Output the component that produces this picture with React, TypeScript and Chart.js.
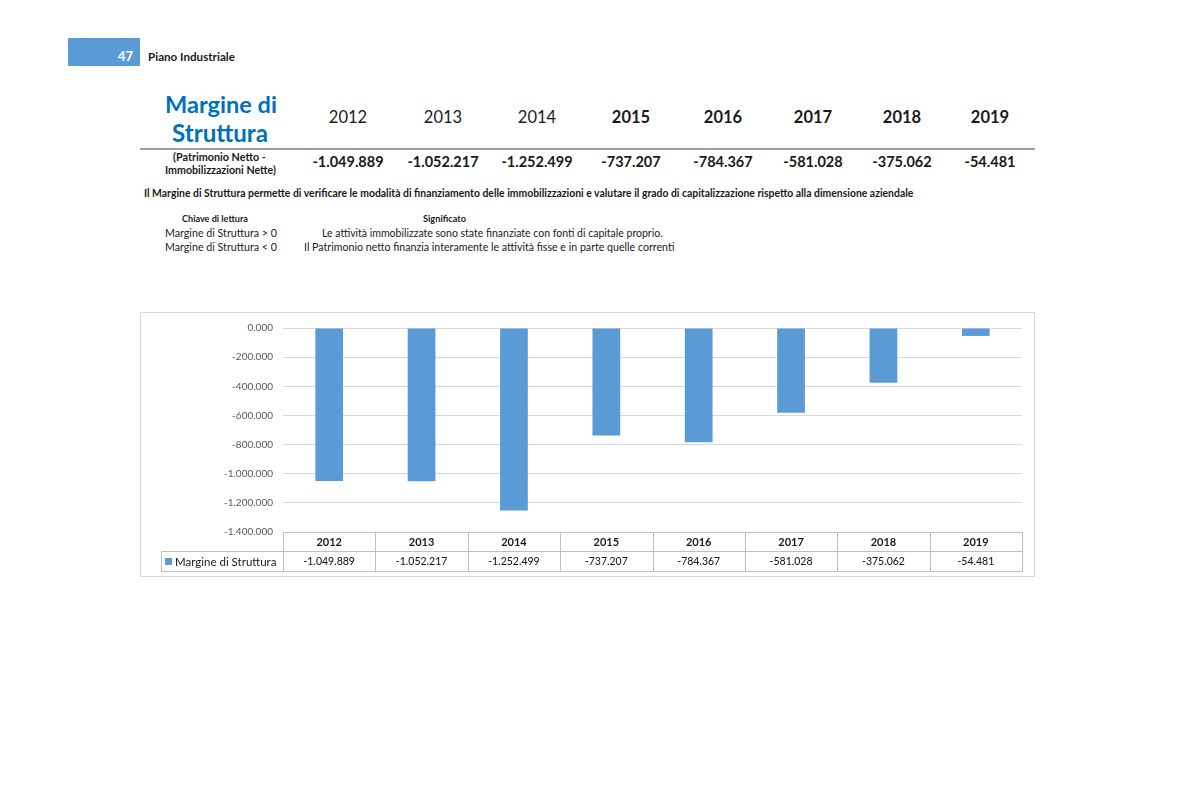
import React, { useEffect, useRef } from "react";
import { Chart, registerables } from "chart.js";

Chart.register(...registerables);

// ---- data ----
const years = ["2012", "2013", "2014", "2015", "2016", "2017", "2018", "2019"];
const margineStruttura = [-1049889, -1052217, -1252499, -737207, -784367, -581028, -375062, -54481];
const seriesLabel = "Margine di Struttura";
const yMin = -1400000;
const yMax = 0;
const yStep = 200000;

// ---- layout ----
const FONT = "Lato, 'Open Sans', 'DejaVu Sans', sans-serif";
const TEXT = "#1a1a1a";
const BAR = "#5B9BD5";
const topColumnX = [348, 443, 537, 631, 723, 813, 902, 990];

function fmt(v: number): string {
  if (v === 0) return "0.000";
  const s = Math.abs(Math.round(v))
    .toString()
    .replace(/\B(?=(\d{3})+(?!\d))/g, ".");
  return (v < 0 ? "-" : "") + s;
}

let measureCtx: CanvasRenderingContext2D | null = null;
function fitSize(text: string, weight: number, width: number): number {
  if (!measureCtx) measureCtx = document.createElement("canvas").getContext("2d");
  if (!measureCtx) return 12;
  measureCtx.font = `${weight} 100px Lato`;
  return (100 * width) / measureCtx.measureText(text).width;
}

// Text stretched between two x positions, vertically centred on cy
function T(props: { text: string; x1: number; x2: number; cy: number; weight?: number; color?: string }) {
  const { text, x1, x2, cy, weight = 400, color = TEXT } = props;
  const size = fitSize(text, weight, x2 - x1);
  return (
    <div
      style={{
        position: "absolute",
        left: x1,
        top: cy - size * 0.6,
        fontSize: size,
        lineHeight: 1.2,
        fontFamily: FONT,
        fontWeight: weight,
        color,
        whiteSpace: "nowrap",
      }}
    >
      {text}
    </div>
  );
}

// Text centred on cx with a fixed size
function C(props: { text: string; cx: number; cy: number; size: number; weight?: number; color?: string }) {
  const { text, cx, cy, size, weight = 400, color = TEXT } = props;
  return (
    <div
      style={{
        position: "absolute",
        left: cx - 100,
        width: 200,
        textAlign: "center",
        top: cy - size * 0.6,
        fontSize: size,
        lineHeight: 1.2,
        fontFamily: FONT,
        fontWeight: weight,
        color,
        whiteSpace: "nowrap",
      }}
    >
      {text}
    </div>
  );
}

// Frame of the chart box and the data table under the plot
const dataTablePlugin = {
  id: "dataTable",
  beforeDraw(chart: any) {
    const { ctx, width, height } = chart;
    ctx.save();
    ctx.fillStyle = "#ffffff";
    ctx.fillRect(0, 0, width, height);
    ctx.strokeStyle = "#d9d9d9";
    ctx.lineWidth = 1;
    ctx.strokeRect(0.5, 0.5, width - 1, height - 1);
    ctx.restore();
  },
  afterDraw(chart: any) {
    const { ctx, chartArea } = chart;
    const xs = chart.scales.x;
    const labels: string[] = chart.data.labels;
    const values: number[] = chart.data.datasets[0].data;
    const n = labels.length;
    const colW = (chartArea.right - chartArea.left) / n;
    const top = Math.round(chartArea.bottom) + 0.5;
    const mid = top + 19;
    const bottom = mid + 20;
    const legendLeft = 21.5;
    const left = Math.round(chartArea.left) + 0.5;
    const right = Math.round(chartArea.right) + 0.5;

    ctx.save();
    ctx.strokeStyle = "#bfbfbf";
    ctx.lineWidth = 1;
    ctx.beginPath();
    // horizontal rules
    ctx.moveTo(left, top);
    ctx.lineTo(right, top);
    ctx.moveTo(legendLeft, mid);
    ctx.lineTo(right, mid);
    ctx.moveTo(legendLeft, bottom);
    ctx.lineTo(right, bottom);
    // vertical rules
    ctx.moveTo(legendLeft, mid);
    ctx.lineTo(legendLeft, bottom);
    for (let i = 0; i <= n; i++) {
      const x = Math.round(chartArea.left + i * colW) + 0.5;
      ctx.moveTo(x, top);
      ctx.lineTo(x, bottom);
    }
    ctx.stroke();

    ctx.textAlign = "center";
    ctx.textBaseline = "middle";
    for (let i = 0; i < n; i++) {
      const cx = xs.getPixelForValue(i);
      ctx.fillStyle = "#1a1a1a";
      ctx.font = `bold 11px ${FONT}`;
      ctx.fillText(labels[i], cx, (top + mid) / 2 + 0.5);
      ctx.font = `500 10.5px ${FONT}`;
      ctx.fillText(fmt(values[i]), cx, (mid + bottom) / 2 + 0.5);
    }

    // legend key inside the table
    const ly = (mid + bottom) / 2;
    ctx.fillStyle = BAR;
    ctx.fillRect(25, Math.round(ly - 3.5), 7, 7);
    ctx.fillStyle = "#1a1a1a";
    ctx.textAlign = "left";
    ctx.font = `11.5px ${FONT}`;
    ctx.fillText(chart.data.datasets[0].label, 35, ly + 0.5);
    ctx.restore();
  },
};

function MarginChart() {
  const ref = useRef<HTMLCanvasElement | null>(null);
  useEffect(() => {
    if (!ref.current) return;
    const chart = new Chart(ref.current, {
      type: "bar",
      data: {
        labels: years,
        datasets: [
          {
            label: seriesLabel,
            data: margineStruttura,
            backgroundColor: BAR,
            borderWidth: 0,
            categoryPercentage: 0.6,
            barPercentage: 0.5,
          },
        ],
      },
      options: {
        responsive: false,
        maintainAspectRatio: false,
        animation: false,
        layout: { padding: { top: 14, right: 13, bottom: 45, left: 0 } },
        plugins: {
          legend: { display: false },
          tooltip: { enabled: false },
        },
        scales: {
          x: { display: false },
          y: {
            min: yMin,
            max: yMax,
            border: { display: false },
            grid: { color: "#d9d9d9", drawTicks: false },
            ticks: {
              stepSize: yStep,
              padding: 10,
              color: "#595959",
              font: { family: FONT, size: 10 },
              callback: (v: any) => fmt(Number(v)),
            },
            afterFit: (scale: any) => {
              scale.width = 143;
            },
          },
        },
      },
      plugins: [dataTablePlugin],
    });
    return () => chart.destroy();
  }, []);
  return (
    <canvas
      ref={ref}
      width={895}
      height={265}
      style={{ position: "absolute", left: 140, top: 312, width: 895, height: 265 }}
    />
  );
}

export default function App() {
  return (
    <div
      style={{
        position: "absolute",
        left: 0,
        top: 0,
        width: 1193,
        height: 800,
        background: "#ffffff",
        overflow: "hidden",
      }}
    >
      {/* page header */}
      <div style={{ position: "absolute", left: 68, top: 38, width: 72, height: 28, background: BAR }} />
      <T text="47" x1={118} x2={133} cy={57} weight={700} color="#ffffff" />
      <T text="Piano Industriale" x1={148} x2={235} cy={57} weight={700} />

      {/* summary table */}
      <T text="Margine di" x1={165} x2={277} cy={104} weight={700} color="#0070C0" />
      <T text="Struttura" x1={172} x2={268} cy={133} weight={700} color="#0070C0" />
      {years.map((y, i) => (
        <C key={y} text={y} cx={topColumnX[i]} cy={118} size={16.5} weight={i >= 3 ? 700 : 400} />
      ))}
      <div style={{ position: "absolute", left: 140, top: 148, width: 895, height: 2, background: "#9e9e9e" }} />
      <T text="(Patrimonio Netto -" x1={173} x2={266} cy={157} weight={700} />
      <T text="Immobilizzazioni Nette)" x1={165} x2={276} cy={170} weight={700} />
      {margineStruttura.map((v, i) => (
        <C key={years[i]} text={fmt(v)} cx={topColumnX[i]} cy={162} size={14.5} weight={700} />
      ))}

      {/* description */}
      <T
        text="Il Margine di Struttura permette di verificare le modalità di finanziamento delle immobilizzazioni e valutare il grado di capitalizzazione rispetto alla dimensione aziendale"
        x1={144}
        x2={915}
        cy={193}
        weight={700}
      />
      <T text="Chiave di lettura" x1={182} x2={248} cy={219} weight={700} />
      <T text="Significato" x1={423} x2={466} cy={219} weight={700} />
      <T text="Margine di Struttura > 0" x1={165} x2={277} cy={233} />
      <T text="Margine di Struttura < 0" x1={165} x2={277} cy={247} />
      <T
        text="Le attività immobilizzate sono state finanziate con fonti di capitale proprio."
        x1={322}
        x2={663}
        cy={233}
      />
      <T
        text="Il Patrimonio netto finanzia interamente le attività fisse e in parte quelle correnti"
        x1={304}
        x2={675}
        cy={247}
      />

      <MarginChart />
    </div>
  );
}
